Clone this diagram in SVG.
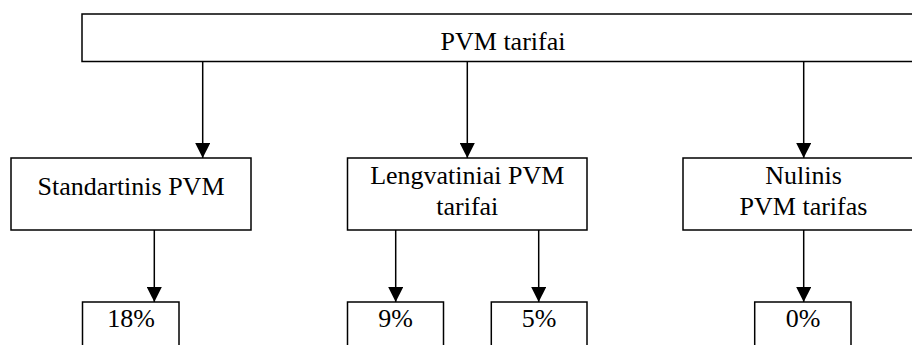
<svg xmlns="http://www.w3.org/2000/svg" width="912" height="345" viewBox="0 0 912 345">
<style>
.box{fill:#fff;stroke:#000;stroke-width:1.5}
.t{font-family:'Liberation Serif','DejaVu Serif',serif;font-size:26px;fill:#000;text-anchor:middle}
.c{stroke:#000;stroke-width:1.5;fill:none}
</style>
<defs>
<marker id="ah" markerUnits="userSpaceOnUse" markerWidth="16" markerHeight="15" refX="16" refY="8" orient="auto" viewBox="0 0 16 16">
<path d="M0,0 L16,8 L0,16 Z" fill="#000"/>
</marker>
</defs>
<g id="n-root">
<rect class="box" x="82" y="14" width="842" height="47.5"/>
<text class="t" font-family="Liberation Serif, serif" x="503" y="49.5">PVM tarifai</text>
</g>
<g id="n-standard">
<rect class="box" x="11" y="158" width="240" height="72"/>
<text class="t" font-family="Liberation Serif, serif" x="131" y="195">Standartinis PVM</text>
</g>
<g id="n-reduced">
<rect class="box" x="347.5" y="158" width="239.5" height="72"/>
<text class="t" font-family="Liberation Serif, serif" x="467.3" y="184">Lengvatiniai PVM</text>
<text class="t" font-family="Liberation Serif, serif" x="467.3" y="214.5">tarifai</text>
</g>
<g id="n-zero">
<rect class="box" x="683" y="158" width="241" height="72"/>
<text class="t" font-family="Liberation Serif, serif" x="803.5" y="184">Nulinis</text>
<text class="t" font-family="Liberation Serif, serif" x="803.5" y="214.5">PVM tarifas</text>
</g>
<g id="n-18">
<rect class="box" x="82.5" y="302" width="96.5" height="60"/>
<text class="t" font-family="Liberation Serif, serif" x="131" y="327">18%</text>
</g>
<g id="n-9">
<rect class="box" x="347.5" y="302" width="96" height="60"/>
<text class="t" font-family="Liberation Serif, serif" x="395.5" y="327">9%</text>
</g>
<g id="n-5">
<rect class="box" x="491.3" y="302" width="95.7" height="60"/>
<text class="t" font-family="Liberation Serif, serif" x="539" y="327">5%</text>
</g>
<g id="n-0">
<rect class="box" x="754.7" y="302" width="96.3" height="60"/>
<text class="t" font-family="Liberation Serif, serif" x="803" y="327">0%</text>
</g>
<g id="connectors">
<line class="c" x1="202.7" y1="61.5" x2="202.7" y2="158" marker-end="url(#ah)"/>
<line class="c" x1="467.3" y1="61.5" x2="467.3" y2="158" marker-end="url(#ah)"/>
<line class="c" x1="803.7" y1="61.5" x2="803.7" y2="158" marker-end="url(#ah)"/>
<line class="c" x1="154.3" y1="230" x2="154.3" y2="302" marker-end="url(#ah)"/>
<line class="c" x1="395.7" y1="230" x2="395.7" y2="302" marker-end="url(#ah)"/>
<line class="c" x1="538.7" y1="230" x2="538.7" y2="302" marker-end="url(#ah)"/>
<line class="c" x1="803.7" y1="230" x2="803.7" y2="302" marker-end="url(#ah)"/>
</g>
</svg>
